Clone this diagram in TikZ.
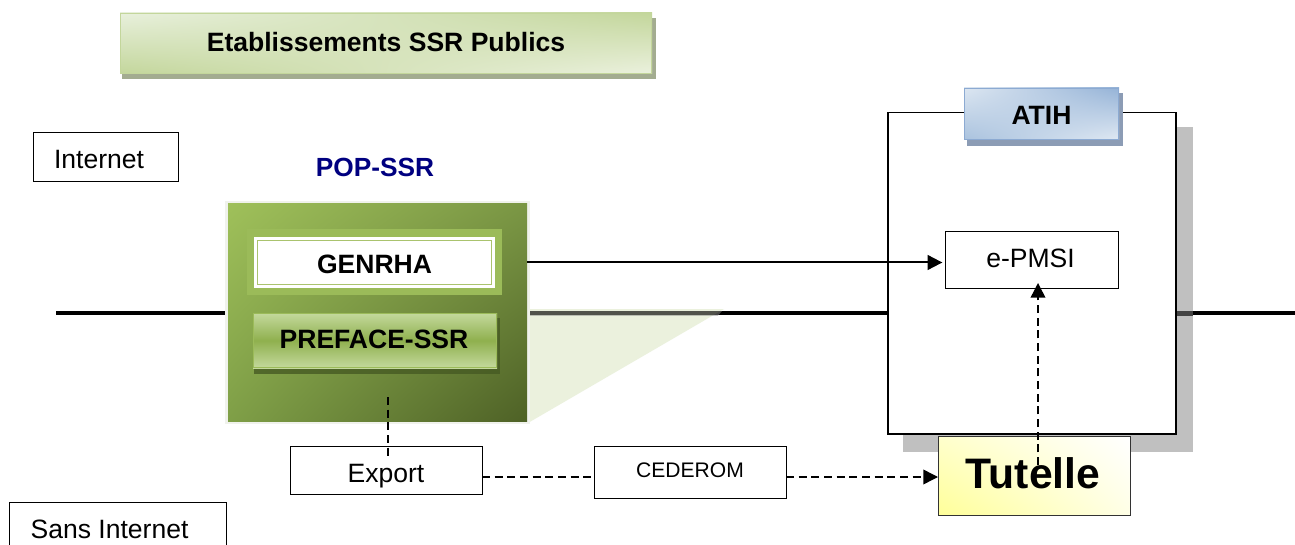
\documentclass[tikz,border=0pt]{standalone}
\usepackage{fontspec}
\setmainfont{Liberation Sans}
\usetikzlibrary{arrows.meta,calc,shadings}
\definecolor{navyt}{HTML}{000080}
\definecolor{shadegray}{HTML}{C0C0C0}
\definecolor{gA}{HTML}{E8F0DC}
\definecolor{gB}{HTML}{C3D69B}
\definecolor{gC}{HTML}{EBF1DE}
\definecolor{gBorder}{HTML}{C3D69B}
\definecolor{gShadow}{HTML}{A3AC90}
\definecolor{bA}{HTML}{DCE6F1}
\definecolor{bB}{HTML}{95B3D7}
\definecolor{bC}{HTML}{A9C2DE}
\definecolor{bD}{HTML}{E0E9F3}
\definecolor{bBorder}{HTML}{8CAAD2}
\definecolor{bShadow}{HTML}{8C9CB5}
\definecolor{pA}{HTML}{9FC05A}
\definecolor{pB}{HTML}{7A9644}
\definecolor{pC}{HTML}{7F9F47}
\definecolor{pD}{HTML}{4E6126}
\definecolor{pGlow}{HTML}{F0F2EC}
\definecolor{gGlow}{HTML}{9BBB59}
\definecolor{gLine}{HTML}{AAC36E}
\definecolor{fShadow}{HTML}{465A23}
\definecolor{fLight}{HTML}{C4D99D}
\definecolor{fMid}{HTML}{8FB04E}
\definecolor{yA}{HTML}{FFFFCC}
\definecolor{yB}{HTML}{FFFF99}
\definecolor{yC}{HTML}{FFFFE6}
\newcommand{\bx}[7]{%
  \pgfmathsetmacro{\bxw}{(#5-#3)*0.75}%
  \pgfmathsetmacro{\bxh}{(#6-#4)*0.75}%
  \node[#2,minimum width=\bxw pt,minimum height=\bxh pt,inner sep=0pt,outer sep=0pt,anchor=center]
    (#1) at ({(#3+#5)/2},{(#4+#6)/2}) {#7};}
% text with its baseline set #2 px below and its centre #1 px right of the node centre
\newcommand{\tx}[3]{\makebox[0pt][c]{\hspace*{\dimexpr#1pt*3/2\relax}\raisebox{\dimexpr-#2pt*3/4\relax}[0pt][0pt]{#3}}}
\tikzset{
  x=0.75pt,y=-0.75pt,
  plainbox/.style={draw=black,fill=white,line width=0.7pt},
  regular/.style={font=\fontsize{19.9}{24}\selectfont},
  strong/.style={font=\fontsize{19.9}{24}\selectfont\bfseries},
  conn/.style={draw=black,line width=1.5pt,-{Triangle[length=11pt,width=11pt]}},
  dashconn/.style={draw=black,line width=1.1pt,dash pattern=on 6pt off 3.5pt},
  dashtip/.style={dashconn,-{Triangle[length=11pt,width=11pt]}},
  greenbanner/.style={draw=none,upper left=gA,upper right=gB,lower left=gB,lower right=gC},
  bluebanner/.style={draw=none,upper left=bA,upper right=bB,lower left=bC,lower right=bD},
}
\begin{document}
\begin{tikzpicture}
\useasboundingbox (0,0) rectangle (1295,545);
\clip (0,0) rectangle (1295,545);
\fill[white] (0,0) rectangle (1295,545);
% separator
\coordinate (sepL) at (56,313);
\coordinate (sepR) at (1295,313);
\draw[black,line width=2.6pt] (sepL) -- (sepR);
% cone of POP shadow
\fill[gGlow,fill opacity=0.2] (528,309) -- (724,309) -- (528,423) -- cycle;
\fill[black!55,opacity=0.6] (528,311) -- (722,311) -- (718,315.5) -- (528,315.5) -- cycle;
% ATIH frame
\fill[shadegray] (903,127) rectangle (1193,452);
\fill[black,opacity=0.65] (1176,311) rectangle (1193,315.5);
\bx{frame}{plainbox,line width=1pt}{888}{112.5}{1176}{434}{}
\fill[bShadow] (967,93) rectangle (1123,146);
\bx{atih}{bluebanner,strong}{964}{88}{1119}{140}{\tx{0}{11}{ATIH}}
\draw[bBorder,line width=1.4pt] (964.5,88.5) rectangle (1118.5,139.5);
% banner
\fill[gShadow] (122,18) rectangle (656,79);
\bx{estab}{greenbanner,strong}{120}{13}{652}{74}{\tx{0}{8}{Etablissements SSR Publics}}
\draw[gBorder,line width=1.4pt] (120.5,13.5) rectangle (651.5,73.5);
% legends
\bx{inet}{plainbox,regular}{33}{132}{178}{181}{\tx{-6.5}{12}{Internet}}
\bx{sans}{plainbox,regular}{9}{502}{226}{556}{\tx{-8}{9.5}{Sans Internet}}
\node[font=\fontsize{19.7}{24}\selectfont\bfseries,text=navyt,inner sep=0pt] (title) at (375,167) {POP-SSR};
% POP block
\bx{popglow}{fill=pGlow}{225}{201}{530}{424}{}
\bx{pop}{draw=none,upper left=pA,upper right=pB,lower left=pC,lower right=pD}{228}{204}{527}{421}{}
\bx{gglow}{fill=gGlow}{247}{229}{502}{295}{}
\bx{genrha}{fill=white,draw=white,line width=1.3pt,strong}{255}{238}{494}{287}{\tx{0}{11}{GENRHA}}
\draw[gLine,line width=1pt] ($(genrha.north west)+(2.5,2.5)$) rectangle ($(genrha.south east)+(-2.5,-2.5)$);
\fill[fShadow,opacity=0.8] (254,318) rectangle (500,374);
\bx{preface}{draw=none,shade,top color=fLight,bottom color=fLight,middle color=fMid,strong}{253}{313}{497}{368}{\tx{-1}{8}{PREFACE-SSR}}
\draw[gGlow,line width=1.2pt] (253.5,313.5) rectangle (496.5,367.5);
% lower boxes
\bx{export}{plainbox,regular}{290}{446}{482}{494}{\tx{0}{12}{Export}}
\bx{cederom}{plainbox,font=\fontsize{15.8}{20}\selectfont}{594}{446}{786}{498}{\tx{0}{5.5}{CEDEROM}}
\bx{tutelle}{draw=black!80,line width=0.7pt,upper left=yA,upper right=white,lower left=yB,lower right=yC,font=\fontsize{32}{36}\selectfont\bfseries}{938}{436.5}{1130}{515}{\tx{-1}{12.5}{Tutelle}}
\bx{epmsi}{plainbox,regular}{945}{231}{1118}{288}{\tx{-1}{8}{e-PMSI}}
% connectors
\coordinate (popout) at (pop.east |- genrha.center);
\draw[conn,shorten >=2pt] (popout) -- (epmsi.west |- popout);
\coordinate (popdown) at (388,397);
\coordinate (expin) at (388,460);
\draw[dashconn] (popdown) -- (expin);
\coordinate (lowrow) at (0,477);
\draw[dashconn] (export.east |- lowrow) -- (cederom.west |- lowrow);
\draw[dashtip] (cederom.east |- lowrow) -- (tutelle.west |- lowrow);
\coordinate (tutout) at (1038,465);
\coordinate (tuthead) at (1038,283);
\draw[dashtip] (tutout) -- (tuthead);
\end{tikzpicture}
\end{document}
